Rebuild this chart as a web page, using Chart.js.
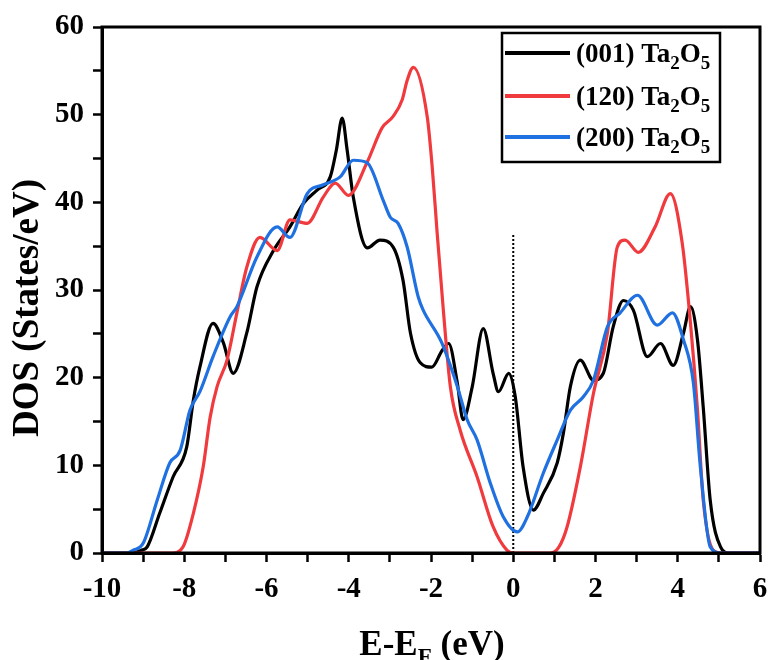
<!DOCTYPE html>
<html>
<head>
<meta charset="utf-8">
<script src="https://cdn.jsdelivr.net/npm/chart.js@4.4.0/dist/chart.umd.min.js"></script>
<style>
  html, body { margin: 0; padding: 0; background: #fff; }
  #wrap { width: 769px; height: 660px; }
</style>
</head>
<body>
<div id="wrap"><canvas id="dos"></canvas></div>
<script>
// (001) Ta2O5
var x001 = [-10, -9.3, -9.05, -8.9, -8.6, -8.27, -7.94, -7.78, -7.62, -7.3, -7.05, -6.81, -6.48, -6.23, -5.83, -5.43, -5.1, -4.77, -4.45, -4.3, -4.16, -4.04, -3.89, -3.55, -3.24, -2.92, -2.68, -2.5, -2.26, -1.98, -1.73, -1.57, -1.36, -1.22, -1.0, -0.73, -0.49, -0.36, -0.11, 0.05, 0.24, 0.49, 0.73, 1.07, 1.22, 1.39, 1.63, 1.95, 2.19, 2.43, 2.68, 2.92, 3.26, 3.58, 3.89, 4.14, 4.31, 4.48, 4.62, 4.79, 5.04, 5.25, 6];
var y001 = [0, 0, 0.3, 0.7, 4.5, 8.7, 12.1, 17.4, 21.2, 26.2, 24.0, 20.5, 25.1, 30.4, 34.5, 37.2, 39.9, 41.4, 42.9, 46.0, 49.6, 46.0, 40.6, 34.8, 35.7, 34.9, 31.1, 25.1, 21.7, 21.2, 23.1, 23.9, 19.4, 15.2, 18.9, 25.6, 20.5, 18.4, 20.5, 17.8, 9.8, 4.9, 6.8, 10.3, 13.7, 19.0, 22.0, 19.7, 20.5, 25.8, 28.8, 27.7, 22.4, 23.9, 21.4, 25.1, 28.1, 24.3, 16.6, 6.0, 0.7, 0, 0];

// (120) Ta2O5
var x120 = [-10, -8.3, -8.03, -7.78, -7.54, -7.37, -7.2, -6.96, -6.72, -6.48, -6.16, -5.74, -5.43, -5.01, -4.62, -4.33, -4.01, -3.55, -3.19, -2.92, -2.7, -2.58, -2.43, -2.09, -1.97, -1.85, -1.7, -1.53, -1.29, -0.88, -0.49, -0.15, 0, 0.9, 1.1, 1.31, 1.63, 1.95, 2.29, 2.53, 2.72, 3.04, 3.45, 3.82, 4.11, 4.31, 4.48, 4.62, 4.87, 5.1, 6];
var y120 = [0, 0, 0.7, 4.5, 9.8, 15.5, 19.0, 22.0, 27.4, 32.6, 36.0, 34.5, 38.0, 37.6, 40.6, 42.2, 40.8, 44.6, 48.5, 49.8, 51.7, 53.9, 55.4, 49.7, 44.0, 36.5, 27.7, 19.0, 14.0, 8.7, 3.0, 0.3, 0, 0, 0.6, 3.0, 9.8, 18.2, 25.1, 34.9, 35.7, 34.3, 37.2, 41.0, 35.3, 26.2, 16.3, 6.0, 0.3, 0, 0];

// (200) Ta2O5
var x200 = [-10, -9.4, -9.25, -9.0, -8.66, -8.35, -8.1, -7.86, -7.62, -7.3, -6.89, -6.72, -6.23, -5.74, -5.43, -5.01, -4.62, -4.21, -3.89, -3.55, -3.16, -2.99, -2.8, -2.58, -2.31, -2.19, -1.75, -1.36, -1.12, -0.88, -0.56, -0.24, 0.1, 0.34, 0.73, 1.07, 1.39, 1.7, 1.95, 2.29, 2.6, 3.02, 3.5, 3.87, 4.14, 4.38, 4.55, 4.79, 5.05, 6];
var y200 = [0, 0, 0.3, 1.1, 6.0, 10.3, 11.7, 16.3, 18.4, 22.4, 26.9, 28.1, 33.8, 37.2, 36.0, 41.0, 42.0, 42.9, 44.8, 44.5, 40.2, 38.3, 37.6, 34.9, 29.2, 27.7, 24.1, 19.0, 15.2, 12.9, 8.0, 4.1, 2.4, 4.1, 9.1, 12.9, 16.3, 17.8, 19.7, 25.8, 27.4, 29.4, 26.0, 27.4, 24.3, 19.4, 9.8, 0.7, 0, 0];

// Fermi level marker
var fermiX = [0, 0];
var fermiY = [0, 36.5];

var seriesNames = ['(001) Ta', '(120) Ta', '(200) Ta'];
var colours = ['#000000', '#F03A3E', '#1F70E0'];

function pts(xs, ys) {
    var out = [];
    for (var i = 0; i < xs.length; i++) out.push({ x: xs[i], y: ys[i] });
    return out;
}

var serif = "'Liberation Serif', 'Times New Roman', serif";

var datasets = [
    { label: seriesNames[0], data: pts(x001, y001), borderColor: colours[0], order: 2 },
    { label: seriesNames[1], data: pts(x120, y120), borderColor: colours[1], order: 1 },
    { label: seriesNames[2], data: pts(x200, y200), borderColor: colours[2], order: 0 }
];
datasets.forEach(function (d) {
    d.showLine = true;
    d.borderWidth = 3.2;
    d.pointRadius = 0;
    d.cubicInterpolationMode = 'monotone';
    d.fill = false;
});
datasets.push({
    label: 'EF',
    data: pts(fermiX, fermiY),
    showLine: true,
    borderColor: '#000',
    borderWidth: 2,
    borderDash: [2, 2],
    pointRadius: 0,
    order: 3
});

// frame, legend box and axis titles
var extras = {
    id: 'extras',
    afterDraw: function (chart) {
        var ctx = chart.ctx;
        var a = chart.chartArea;
        ctx.save();
        ctx.strokeStyle = '#000';
        ctx.lineWidth = 3;
        ctx.strokeRect(a.left, a.top, a.right - a.left, a.bottom - a.top);

        // legend
        var bx = a.right - 258, by = a.top + 6, bw = 218, bh = 129;
        ctx.lineWidth = 2.5;
        ctx.strokeRect(bx, by, bw, bh);
        var rows = [26, 69, 110];
        ctx.textBaseline = 'alphabetic';
        ctx.textAlign = 'left';
        for (var i = 0; i < 3; i++) {
            var yy = a.top + rows[i];
            ctx.strokeStyle = colours[i];
            ctx.lineWidth = 4;
            ctx.beginPath();
            ctx.moveTo(bx + 3, yy);
            ctx.lineTo(bx + 68, yy);
            ctx.stroke();
            var tx = bx + 74, base = yy + 9;
            ctx.fillStyle = '#000';
            ctx.font = 'bold 27px ' + serif;
            ctx.fillText(seriesNames[i], tx, base);
            tx += ctx.measureText(seriesNames[i]).width;
            ctx.font = 'bold 19px ' + serif;
            ctx.fillText('2', tx, base + 7);
            tx += ctx.measureText('2').width;
            ctx.font = 'bold 27px ' + serif;
            ctx.fillText('O', tx, base);
            tx += ctx.measureText('O').width;
            ctx.font = 'bold 19px ' + serif;
            ctx.fillText('5', tx, base + 7);
        }

        // x title: E-E_F (eV)
        var big = 'bold 35px ' + serif, small = 'bold 23px ' + serif;
        ctx.font = big;
        var w1 = ctx.measureText('E-E').width;
        var w3 = ctx.measureText(' (eV)').width;
        ctx.font = small;
        var w2 = ctx.measureText('F').width;
        var cx = 432;
        var sx = cx - (w1 + w2 + w3) / 2;
        var base2 = 655;
        ctx.fillStyle = '#000';
        ctx.font = big;
        ctx.fillText('E-E', sx, base2);
        ctx.font = small;
        ctx.fillText('F', sx + w1, base2 + 9);
        ctx.font = big;
        ctx.fillText(' (eV)', sx + w1 + w2, base2);

        // y title
        ctx.translate(28, 308);
        ctx.rotate(-Math.PI / 2);
        ctx.textAlign = 'center';
        ctx.textBaseline = 'middle';
        ctx.font = 'bold 37px ' + serif;
        ctx.fillText('DOS (States/eV)', 0, 0);
        ctx.restore();
    }
};

const config = {
    type: 'scatter',
    data: { datasets: datasets },
    options: {
        animation: false,
        responsive: true,
        maintainAspectRatio: false,
        layout: { padding: { left: 0, right: 9, top: 27, bottom: 0 } },
        plugins: {
            legend: { display: false },
            tooltip: { enabled: false }
        },
        scales: {
            x: {
                type: 'linear',
                min: -10,
                max: 6,
                afterFit: function (s) {
                    s.height = 107;
                    s.paddingRight = 0;
                },
                ticks: {
                    stepSize: 1,
                    color: '#000',
                    padding: 10,
                    maxRotation: 0,
                    autoSkip: false,
                    font: { family: serif, size: 29, weight: 'bold' },
                    callback: function (v) { return v % 2 === 0 ? v : ''; }
                },
                grid: {
                    drawOnChartArea: false,
                    tickLength: 9,
                    tickColor: '#000',
                    tickWidth: 2.5
                },
                border: { color: '#000', width: 3 }
            },
            y: {
                min: 0,
                max: 60,
                afterFit: function (s) { s.width = 102; },
                ticks: {
                    stepSize: 5,
                    color: '#000',
                    padding: 9,
                    autoSkip: false,
                    font: { family: serif, size: 29, weight: 'bold' },
                    callback: function (v) { return v % 10 === 0 ? v : ''; }
                },
                grid: {
                    drawOnChartArea: false,
                    tickLength: 9,
                    tickColor: '#000',
                    tickWidth: 2.5
                },
                border: { color: '#000', width: 3 }
            }
        }
    },
    plugins: [extras]
};

new Chart(document.getElementById('dos'), config);
</script>
</body>
</html>
